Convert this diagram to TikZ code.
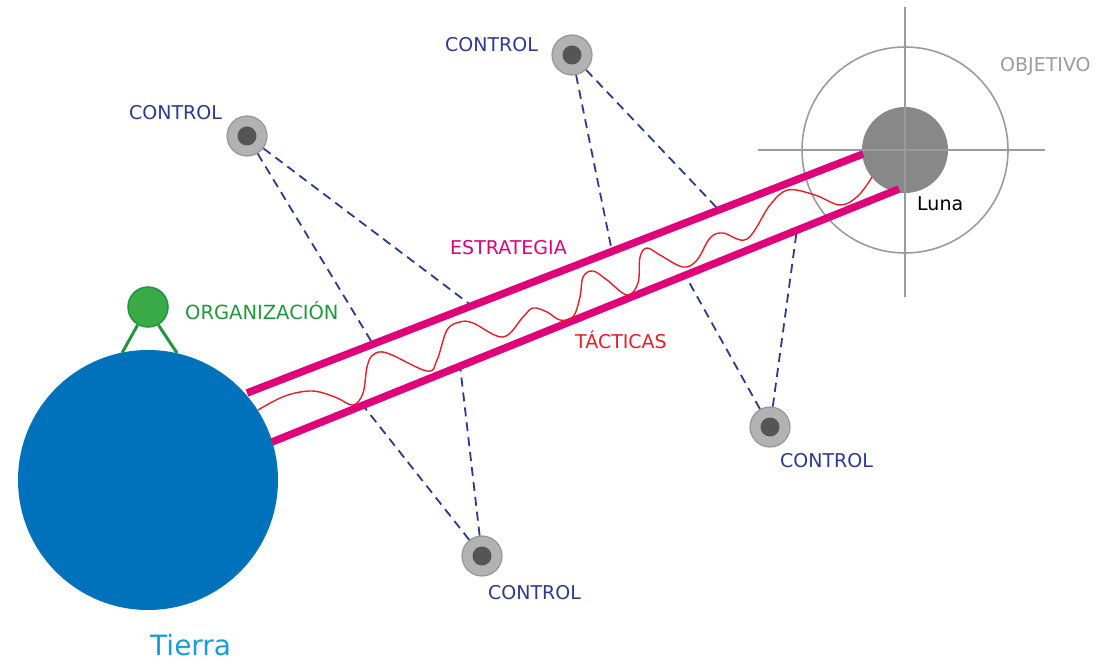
\documentclass[tikz,border=0pt]{standalone}
\usepackage{fontspec}
\setmainfont{DejaVu Sans}
\usetikzlibrary{calc}
\definecolor{earthblue}{RGB}{0,114,188}
\definecolor{tierrablue}{RGB}{27,157,217}
\definecolor{magentaL}{RGB}{224,0,122}
\definecolor{tactred}{RGB}{230,30,40}
\definecolor{orggreen}{RGB}{58,170,72}
\definecolor{orgdark}{RGB}{34,150,60}
\definecolor{navy}{RGB}{43,57,144}
\definecolor{ctrlfill}{RGB}{178,178,178}
\definecolor{ctrlborder}{RGB}{150,150,150}
\definecolor{ctrlcore}{RGB}{85,85,85}
\definecolor{moongray}{RGB}{136,136,136}
\definecolor{objgray}{RGB}{155,155,155}
\tikzset{
  lbl/.style={font=\fontsize{19}{23}\selectfont, inner sep=0pt},
  ctrlnode/.style={circle, minimum size=40pt, inner sep=0pt, fill=ctrlfill, draw=ctrlborder, line width=1.2pt},
  ctrlcorenode/.style={circle, minimum size=19pt, inner sep=0pt, fill=ctrlcore},
  ctrllabel/.style={lbl, text=navy},
  ctrlline/.style={navy, line width=1.8pt, dash pattern=on 9pt off 6pt},
  stratline/.style={magentaL, line width=7.5pt},
  crossline/.style={objgray, line width=2pt},
}
\begin{document}
\begin{tikzpicture}[x=1pt,y=-1pt]
\useasboundingbox (0,0) rectangle (1115,660);

% objective
\node[circle, minimum size=206pt, inner sep=0pt, draw=objgray, line width=1.6pt] (obj) at (905,150) {};
\node[circle, minimum size=86pt, inner sep=0pt, fill=moongray] (luna) at (905,150) {};
\coordinate (chT) at (905,7);
\coordinate (chB) at (905,297);
\coordinate (chL) at (758,150);
\coordinate (chR) at (1045,150);
\draw[crossline] (chT) -- (chB);
\draw[crossline] (chL) -- (chR);
\node[lbl, text=objgray, anchor=west] (objlbl) at (1000,66) {OBJETIVO};
\node[lbl, text=black, anchor=west] (lunalbl) at (917,204) {Luna};

% earth
\node[circle, minimum size=260pt, inner sep=0pt, fill=earthblue] (earth) at (148,480) {};
\node[font=\fontsize{28}{32}\selectfont, inner sep=0pt, text=tierrablue, anchor=west] (tierra) at (150,645) {Tierra};

% organization
\node[circle, minimum size=40pt, inner sep=0pt, fill=orggreen, draw=orgdark, line width=1.5pt] (org) at (148,307) {};
\coordinate (legL) at (122,353);
\coordinate (legR) at (177,353);
\draw[orgdark, line width=3pt] (org.240) -- (legL);
\draw[orgdark, line width=3pt] (org.300) -- (legR);
\node[lbl, text=orgdark, anchor=west] (orglbl) at (185,311) {\fontsize{19.5}{23}\selectfont ORGANIZACIÓN};

% strategy lines
\coordinate (u1) at (247,393);
\coordinate (u2) at (863,154);
\coordinate (l1) at (272,442);
\coordinate (l2) at (899,189);

% control nodes
\node[ctrlnode] (c1) at (247,136) {};
\node[ctrlcorenode] (c1in) at (247,136) {};
\node[ctrlnode] (c2) at (572,55) {};
\node[ctrlcorenode] (c2in) at (572,55) {};
\node[ctrlnode] (c3) at (770,427) {};
\node[ctrlcorenode] (c3in) at (770,427) {};
\node[ctrlnode] (c4) at (482,556) {};
\node[ctrlcorenode] (c4in) at (482,556) {};

\node[ctrllabel, anchor=west] (c1lbl) at (129,113) {CONTROL};
\node[ctrllabel, anchor=west] (c2lbl) at (445,45) {CONTROL};
\node[ctrllabel, anchor=west] (c3lbl) at (780,461) {CONTROL};
\node[ctrllabel, anchor=west] (c4lbl) at (488,593) {CONTROL};

% contact points on the strategy lines
\coordinate (p1a) at ($(u1)!0.2045!(u2)$);
\coordinate (p1b) at ($(u1)!0.365!(u2)$);
\coordinate (p2a) at ($(u1)!0.5925!(u2)$);
\coordinate (p2b) at ($(u1)!0.766!(u2)$);
\coordinate (p4a) at ($(l1)!0.145!(l2)$);
\coordinate (p4b) at ($(l1)!0.30!(l2)$);
\coordinate (p3a) at ($(l1)!0.659!(l2)$);
\coordinate (p3b) at ($(l1)!0.837!(l2)$);

\draw[ctrlline] (c1) -- (p1a);
\draw[ctrlline] (c1) -- (p1b);
\draw[ctrlline] (c2) -- (p2a);
\draw[ctrlline] (c2) -- (p2b);
\draw[ctrlline] (c4) -- (p4a);
\draw[ctrlline] (c4) -- (p4b);
\draw[ctrlline] (c3) -- (p3a);
\draw[ctrlline] (c3) -- (p3b);

\draw[stratline] (u1) -- (u2);
\draw[stratline] (l1) -- (l2);

% tactics wave
\draw[tactred, line width=1.4pt] plot[smooth, tension=0.6] coordinates {
(258,410) (285,396) (312,391) (335,397) (353,405) (363,393) (367,367) (373,355) (387,353)
(427,371) (437,360) (447,330) (460,322) (473,323) (503,337) (523,317) (533,308) (547,312)
(560,320) (573,317) (580,297) (583,277) (593,271) (607,280) (627,295) (638,283) (640,257)
(647,248) (660,255) (683,267) (697,260) (710,238) (723,233) (747,239) (770,205) (788,190)
(815,195) (840,205) (858,196) (872,177)};

\node[lbl, text=magentaL, anchor=west] (estr) at (450,248) {ESTRATEGIA};
\node[lbl, text=tactred, anchor=west] (tact) at (575,340) {TÁCTICAS};
\end{tikzpicture}
\end{document}
